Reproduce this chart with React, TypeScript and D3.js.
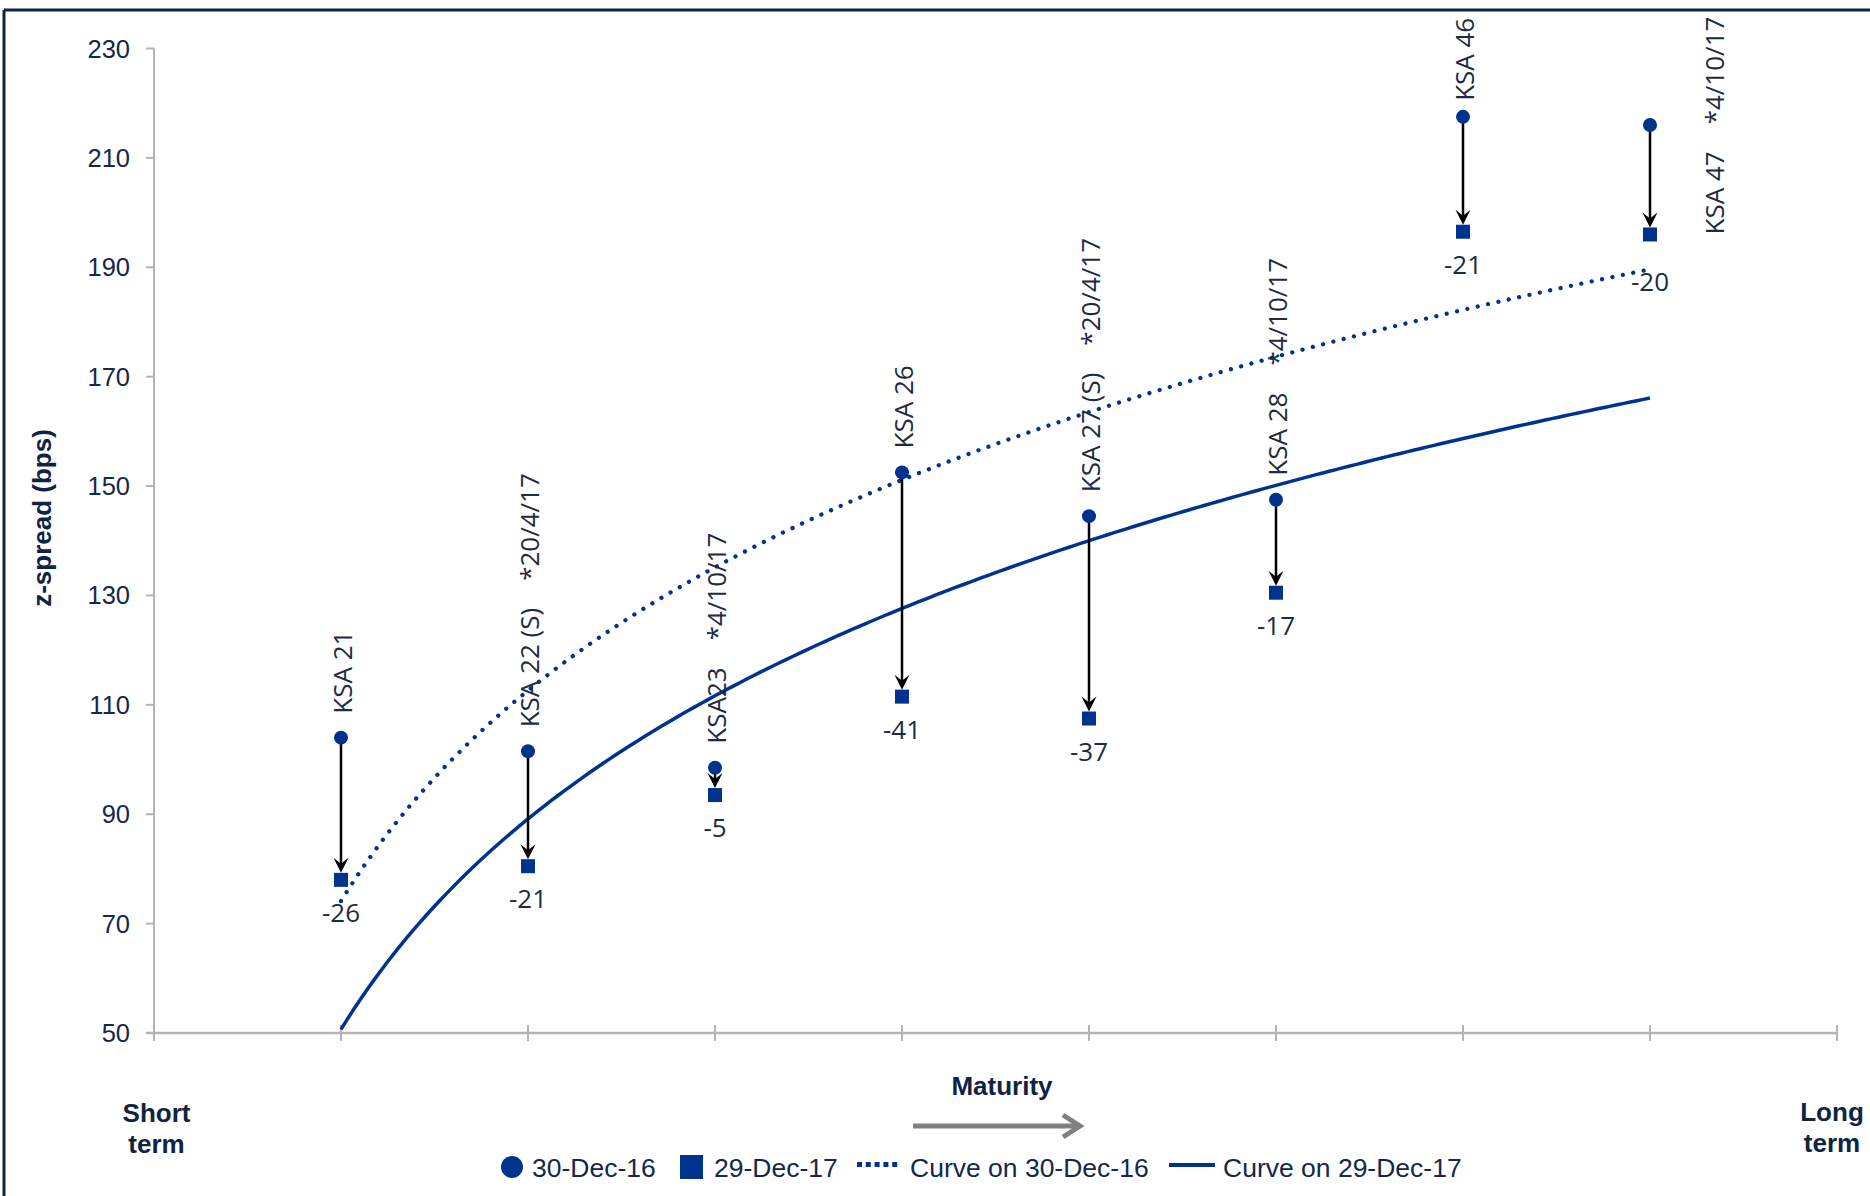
import React from "react";
import * as d3 from "d3";

// Saudi sovereign bonds ordered by maturity (short → long)
const bonds = ["KSA 21", "KSA 22 (S)", "KSA23", "KSA 26", "KSA 27 (S)", "KSA 28", "KSA 46", "KSA 47"];
const issueNotes = ["", "*20/4/17", "*4/10/17", "", "*20/4/17", "*4/10/17", "", "*4/10/17"];
const maturityRank = [1, 2, 3, 4, 5, 6, 7, 8];
// z-spread in bps
const spreadDec16 = [104, 101.5, 98.5, 152.5, 144.5, 147.5, 217.5, 216];
const spreadDec17 = [78, 80.5, 93.5, 111.5, 107.5, 130.5, 196.5, 196];
const yTicks = [50, 70, 90, 110, 130, 150, 170, 190, 210, 230];
const xTicks = [0, 1, 2, 3, 4, 5, 6, 7, 8, 9];
const legendLabels = ["30-Dec-16", "29-Dec-17", "Curve on 30-Dec-16", "Curve on 29-Dec-17"];

const W = 1870;
const H = 1196;
const NAVY = "#00338D";
const INK = "#14284A";
const LABEL_INK = "#1E2B40";
const AXIS = "#B4B4B4";
const SANS = "'Liberation Sans', Arial, sans-serif";
const LABEL_FONT = "'Open Sans', 'Noto Sans', sans-serif";

// logarithmic least-squares trendline y = a + b·ln(x)
function logTrend(xs: number[], ys: number[]) {
  const lx = xs.map((v) => Math.log(v));
  const mx = d3.mean(lx) as number;
  const my = d3.mean(ys) as number;
  let sxy = 0;
  let sxx = 0;
  lx.forEach((v, i) => {
    sxy += (v - mx) * (ys[i] - my);
    sxx += (v - mx) * (v - mx);
  });
  const b = sxy / sxx;
  const a = my - b * mx;
  return (x: number) => a + b * Math.log(x);
}

// signed change in bps, written with a plain hyphen
const fmtChange = d3.formatLocale({ decimal: ".", thousands: ",", grouping: [3], currency: ["", ""], minus: "-" }).format("d");

export default function App() {
  const x = d3.scaleLinear().domain([0, 9]).range([154, 1837]);
  const y = d3.scaleLinear().domain([50, 230]).range([1033, 48.5]);

  const trend16 = logTrend(maturityRank, spreadDec16);
  const trend17 = logTrend(maturityRank, spreadDec17);
  const first = d3.min(maturityRank) as number;
  const last = d3.max(maturityRank) as number;
  const samples = d3.range(first, last + 1e-9, (last - first) / 200);
  const line = d3.line<number>().x((d) => x(d));
  const path16 = line.y((d) => y(trend16(d)))(samples) || "";
  const path17 = line.y((d) => y(trend17(d)))(samples) || "";

  return (
    <svg
      width={W}
      height={H}
      viewBox={`0 0 ${W} ${H}`}
      style={{ position: "absolute", left: 0, top: 0, display: "block", background: "#fff" }}
    >
      {/* frame */}
      <line x1={4} y1={10} x2={W} y2={10} stroke="#0F2342" strokeWidth={3} />
      <line x1={4} y1={10} x2={4} y2={H} stroke="#0F2342" strokeWidth={3} />

      {/* y axis */}
      <line x1={x(0)} y1={y(230)} x2={x(0)} y2={y(50)} stroke={AXIS} strokeWidth={2} />
      {yTicks.map((t) => (
        <g key={`yt${t}`}>
          <line x1={x(0) - 8} x2={x(0)} y1={y(t)} y2={y(t)} stroke={AXIS} strokeWidth={2} />
          <text x={130} y={y(t) + 9} textAnchor="end" fontFamily={SANS} fontSize={25.5} fill={INK}>
            {t}
          </text>
        </g>
      ))}

      {/* x axis */}
      <line x1={x(0) - 8} y1={y(50)} x2={x(9)} y2={y(50)} stroke={AXIS} strokeWidth={2.5} />
      {xTicks.map((t) => (
        <line
          key={`xt${t}`}
          x1={x(t)}
          x2={x(t)}
          y1={t === 0 ? y(50) : y(50) - 8}
          y2={y(50) + 8}
          stroke={AXIS}
          strokeWidth={2}
        />
      ))}

      {/* axis title */}
      <text
        transform={`translate(51,518) rotate(-90)`}
        textAnchor="middle"
        fontFamily={SANS}
        fontWeight="bold"
        fontSize={26}
        fill="#0F2342"
      >
        z-spread (bps)
      </text>

      {/* trendlines */}
      <path
        d={path16}
        fill="none"
        stroke={NAVY}
        strokeWidth={4.3}
        strokeLinecap="round"
        strokeDasharray="0.01 10.6"
      />
      <path d={path17} fill="none" stroke={NAVY} strokeWidth={3.5} />

      {/* spread change arrows */}
      {maturityRank.map((m, i) => {
        const px = x(m);
        const y0 = y(spreadDec16[i]);
        const tip = y(spreadDec17[i]) - 7;
        return (
          <g key={`ar${i}`}>
            <line x1={px} x2={px} y1={y0} y2={tip - 8} stroke="#000" strokeWidth={2.5} />
            <path
              d={`M${px},${tip} L${px - 7.5},${tip - 15} L${px},${tip - 9} L${px + 7.5},${tip - 15} Z`}
              fill="#000"
            />
          </g>
        );
      })}

      {/* markers */}
      {maturityRank.map((m, i) => (
        <g key={`mk${i}`}>
          <circle cx={x(m)} cy={y(spreadDec16[i])} r={7} fill={NAVY} />
          <rect x={x(m) - 7} y={y(spreadDec17[i]) - 7} width={14} height={14} fill={NAVY} />
        </g>
      ))}

      {/* bond names and issue notes */}
      {maturityRank.map((m, i) => {
        let ax = x(m);
        let ay = y(spreadDec16[i]) - 24;
        if (i === 6) ay = y(spreadDec16[i]) - 16;
        if (i === 7) {
          ax = x(m) + 63;
          ay = y(spreadDec17[i]);
        }
        return (
          <text
            key={`nm${i}`}
            transform={`translate(${ax},${ay}) rotate(-90)`}
            y={10.5}
            fontFamily={LABEL_FONT}
            fontSize={26}
            fill={LABEL_INK}
          >
            {bonds[i]}
            {issueNotes[i] && <tspan dx={27}>{issueNotes[i]}</tspan>}
          </text>
        );
      })}

      {/* change in bps */}
      {maturityRank.map((m, i) => (
        <text
          key={`ch${i}`}
          x={x(m)}
          y={y(spreadDec17[i]) + (i === 7 ? 57 : 42)}
          textAnchor="middle"
          fontFamily={LABEL_FONT}
          fontSize={26}
          fill={LABEL_INK}
        >
          {fmtChange(spreadDec17[i] - spreadDec16[i])}
        </text>
      ))}

      {/* maturity direction */}
      <text x={1002} y={1095} textAnchor="middle" fontFamily={SANS} fontWeight="bold" fontSize={26} fill="#0F2342">
        Maturity
      </text>
      <line x1={913} y1={1126} x2={1079} y2={1126} stroke="#808080" strokeWidth={5} />
      <polyline
        points="1063,1115 1080,1126 1063,1137"
        fill="none"
        stroke="#808080"
        strokeWidth={5}
        strokeLinejoin="miter"
      />
      <text textAnchor="middle" fontFamily={SANS} fontWeight="bold" fontSize={26} fill="#0F2342">
        <tspan x={156.5} y={1121.5}>Short</tspan>
        <tspan x={156.5} y={1153}>term</tspan>
      </text>
      <text textAnchor="middle" fontFamily={SANS} fontWeight="bold" fontSize={26} fill="#0F2342">
        <tspan x={1832} y={1120.5}>Long</tspan>
        <tspan x={1832} y={1152}>term</tspan>
      </text>

      {/* legend */}
      <g fontFamily={SANS} fontSize={26.5} fill={INK}>
        <circle cx={512} cy={1167} r={11} fill={NAVY} />
        <text x={532} y={1177}>{legendLabels[0]}</text>
        <rect x={680} y={1155} width={23} height={24} fill={NAVY} />
        <text x={714} y={1177}>{legendLabels[1]}</text>
        <line x1={857} x2={901} y1={1164.5} y2={1164.5} stroke={NAVY} strokeWidth={5} strokeDasharray="5 3.8" />
        <text x={910} y={1177}>{legendLabels[2]}</text>
        <line x1={1169} x2={1215} y1={1165} y2={1165} stroke={NAVY} strokeWidth={4} />
        <text x={1223} y={1177}>{legendLabels[3]}</text>
      </g>
    </svg>
  );
}
